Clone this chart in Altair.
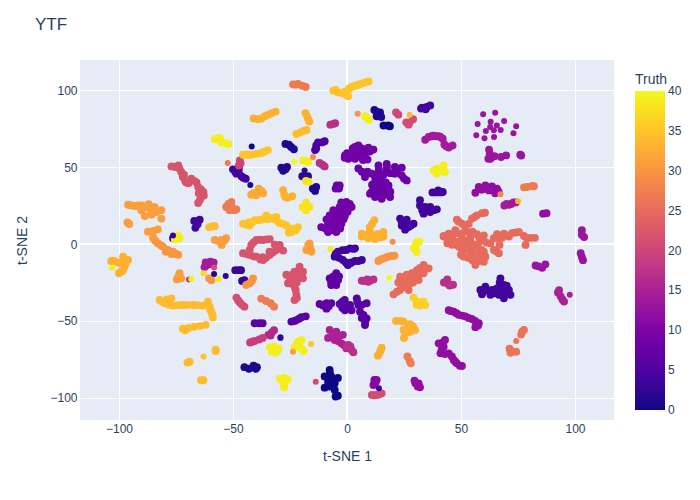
import altair as alt
import pandas as pd

pts_0 = [(16,77),(18,77),(18.8,76.5),(-7.6,-81.8),(-9.8,-86),(-6.9,-86),(-4,-87),(-8.3,-89.4),(-5.4,-90.5),(-9.8,-93.3),(-7.6,-92.6),(-5.4,-94.8),(-5,-99),(-4,-98.5),(-7.5,-84),(-8,-87),(-6,-88.5),(-6,-92)]
pts_1 = [(-27,65),(-25.5,64.5),(-24.5,63),(-23.3,61.5),(-28.8,49.6),(-26.3,50),(-28,47.5),(-27,48.5),(-14.2,36),(-14,34.5),(-13.5,37),(-15,36),(-45,-80),(-43,-81),(-41,-79),(-40,-81),(-39.5,-80),(12,87),(13.5,85),(13,83),(15,82.5),(14.5,85.5),(13,86)]
pts_2 = [(-18.6,44),(-19.6,44),(-17.1,44)]
pts_3 = [(-76.3,3.7),(-49,-17),(-47.5,-17),(-46.5,-17),(-46,-24),(-45,-23.5)]
pts_4 = [(-50,48.5),(-47.4,49.3),(-48.5,45.7),(-46.3,44),(-44.4,42.4),(-49,47),(-45.5,43),(-47.5,47),(-67,15),(-65.5,13),(-66.5,10.5),(-64.6,15.8),(-65.8,12.8),
(33,88.5),(35,89),(36.5,90),(32.5,88),(34.5,87.5),(37.5,33.5),(40,34.8),(42,33.8),(39,33.5),(41,33.5),
(32,28.4),(32,25),(34.3,24),(36.5,24),(39.4,22.5),(33.6,19.7),(36.5,20.8),(35,22),(33,22),(38,22),(23.3,16.5),(26.2,15.8),(29.2,13.2),(24,12),(27,11),(25.5,9.3),(24,14),(26,13),(28,12),
(-5.4,-8.2),(-4,-5),(-0.3,-3.9),(-1.8,-10.4),(0.4,-13.6),(-2,-4),(1.3,-2.8),(3.5,-2.8),(2.8,-3.2),(1.3,-12.5),(3.5,-11),(6.5,-10.4),(-3.5,-9),(-0.5,-12),(5,-11),(2,-12),(-5,-6.5),
(58.5,-29.9),(60.7,-27.7),(63.6,-29.9),(62.9,-33),(67.3,-22.3),(68.8,-26.6),(71,-29.9),(68.8,-35.3),(71.7,-33),(66.6,-33),(65.8,-28.8),(59.2,-32.7),(61,-30),(68,-29),(69,-32),(67,-25),(70,-27),(64.5,-32)]
pts_5 = [(-14,61),(-12.7,66),(-9.8,66.7),(-11,66),(-13.5,64),(-13.5,62)]
pts_6 = [(-24.4,-50.4),(-22.2,-49.4),(-20,-47.6),(-18.1,-47),(-23,-50),(-21,-48.5),(-1,-36.4),(-0.9,-43),(1.3,-39.6),(4.3,-35.3),(5,-39.6),(8.6,-38.5),(5.7,-44),(7.2,-46),(8.6,-48.3),(7.9,-52.6),(2,-43),(4.5,-37.5),(6.5,-39.5),(6.5,-48),(8,-50.5),(-3.2,-39),(-0.3,-40),(-2,-37.5),(-2,-41.5)]
pts_7 = [(-4.7,-19),(-7.6,-22.3),(-3.9,-23.4),(-6.9,-26.6),(-4.7,-26.6),(-6,-21),(-5.5,-24),(-3.5,-21),(-7,-24.5),(-12,-39),(-9,-38.5),(-6.9,-38.5),(-9,-42),(-10.5,-40),(-8,-40.5),(-40.5,-51.5),(-38.5,-51.5),(-37,-51.5)]
pts_8 = [(-4.5,38),(-3.5,36),(-4,37.5),(-5,36),(-3.2,38),
(17.4,52),(13.8,51),(21,50),(24,49.6),(5,49),(7.9,45.7),(10.8,45.7),(13.8,46.8),(17.4,47.8),(21,45.7),(24,44.6),(26.2,41.3),(12.3,43.5),(15.2,43.5),(7.9,43.5),(12.3,40.3),(15.2,40.3),(18.2,38),(11.6,37),(14.5,37),(10.8,33.8),(13.8,33.8),(16.7,33.8),(18.9,30.5),(15.2,29.4),(12.3,30.5),(10.1,32.7),(16,31.6),(19,34),(17,37),(14,48.5),(16,45),(19,46),(22,48),(9,47),(25,42.5),(6.5,47),(14,31),(12,34),(17.5,50),(13,40),(11,38.5),(17,40)]
pts_9 = [(-0.3,27.3),(-3.2,24),(-0.3,23),(-7.6,18.6),(-4.7,18.6),(-1.8,19.7),(-8.3,13.2),(-5.4,13.2),(-2.5,13.2),(-11.3,11),(-8.3,7.8),(-4.7,7.8),(-6,11),(1.2,26),(-6,22),(-3.5,21),(-1,25),(-9.5,10),(-7,16),(-4,16),(-1.5,16),(-3,10),(-6.5,9),(-1,22),(-6,15.5),(-8,11),(2,24),(-9,16),(-5.5,20),(0.3,21),(-2.5,27),(-1,18),
(3.5,63),(6.5,62),(9.4,62.5),(11.6,61.3),(2,58.7),(5,58.7),(8,58.7),(0.6,55.4),(3.5,55.4),(6.5,56.5),(9,54.8),(4.3,61),(-0.9,57.6),(2.5,62),(7.5,60.5),(10,60),(2,56.5),(5,57),(7,54.5),(5,64),(0,59),(-1,56)]
pts_11 = [(12,-88.3),(11.6,-91.6),(13,-88.3),(12.5,-90)]
pts_12 = [(56.3,33.3),(57.8,37),(60.7,38),(63.6,37.4),(65.8,36),(59.2,35.3),(62.2,34.8),(65,33),(60,36.5),(62,36.5),(64,35),(66.5,34),(58,36),
(86,19.7),(87.5,20),(44.6,-43),(46.8,-44),(49,-46),(51.9,-47),(54.8,-48.7),(57.8,-51.5),(56.3,-54),(45.5,-43.5),(48,-45),(50.5,-46.5),(53.3,-48),(56.2,-50),(57.5,-53),
(43,-62.3),(40.2,-64.5),(42.4,-66.7),(41,-71),(44.6,-71),(46.8,-75.3),(48.2,-77.5),(50.4,-79.2),(42,-64),(41.5,-68.5),(43,-71.5),(46,-73),(47.5,-76.5),(49.5,-79),
(29.6,-88.7),(31.4,-90.5),(32,-93),(30,-90.5),(31,-92.5)]
pts_13 = [(62.3,61.3),(62.6,58.7),(62.9,55.4),(64.7,57),(67.6,56.5),(69.8,57.6),(76,58),(76.4,57.5),(62,55.4),(103,9),(103,6),(104,4.5),(102.5,-6),(103,-8.5),(103.5,-10.5),(82.7,-14),(85.6,-15.4),(87,-13.2),(84,-14.5)]
pts_14 = [(-62,-12),(-60,-11.5),(-58.5,-12),(-61.7,-14),(-62.5,-15),(-60,-13),(34.3,67.7),(35.8,69.5),(38,70.3),(40.2,70),(42,68.4),(42.7,64.7),(44.6,62.6),(46.3,64),(37,70),(39,70),(41,69.5),(43.5,63.5),(69,25),(71,25.5),(73,27),(74,27),(70,26),(72,26)]
pts_15 = [(-7.6,-55.8),(-4.7,-57),(-1.8,-59),(-8.3,-61),(-5.4,-62.3),(-2.5,-64.5),(-0.3,-67.7),(-6,-58),(-3.5,-60),(-6.5,-60),(-4,-63),(-1.5,-65.5),(93,-30),(93.7,-34),(95.2,-37.4),(94.5,-36),(92.5,-31.5)]
pts_16 = [(-34.5,-59),(-33,-57.5),(-32,-56),(-33.5,-59.5)]
pts_17 = [(-7.3,77.5),(-6,78),(-5.2,78.5),(-12,52.6),(-10.8,51.5),(-9.8,50.4),(6.5,-23.8),(8.8,-23),(11.6,-23),(9.4,-24.5),(7.5,-24),(10.5,-23.5),(44,-23),(42.5,-25),(45,-27),(46.5,-26.5),(44,-25.5),(0.6,-65.6),(2,-68.8),(2.8,-70.3),(0,-67),(1.5,-66.5)]
pts_19 = [(-42.5,-64),(-40.5,-63),(-38.5,-62),(-37,-61),(-41.5,-63.5)]
pts_20 = [(-47,54.3),(-47.4,51),(-46.7,52.5),(21.5,85.5),(22.5,84)]
pts_21 = [(26,79),(27.5,79),(29,81),(-48.5,-34.8),(-47,-38),(-45,-40.7),(-47.8,-36.5),(-46,-39.5),(10.9,-98),(13,-98),(15.2,-97),(12,-98.3),(14,-97.8),(27,77.5)]
pts_22 = [(-77,50.4),(-74,51),(-72.7,46.8),(-72,43.5),(-70.5,40),(-68.3,42.4),(-66,40),(-65.3,37),(-63,33.8),(-64,30.5),(-65.3,26.6),(-75.5,50),(-71,41),(-69.5,39.5),(-67,41),(-64,35.5),(-73.5,49),(-71.5,45),(-65,33),(-64.5,28.5),(-62.8,31.5),
(-45.6,-6),(-42.7,-7.1),(-39.8,-8.2),(-36.8,-10.4),(-33.9,-7.1),(-31,-3.9),(-28,-4.3),(-29.5,-0.6),(-31.7,-0.4),(-33.9,3.2),(-36.8,2.6),(-39.8,2.6),(-42,-0.6),(-42.7,-3.9),(-44,-6.5),(-41,-8),(-38,-10),(-35.5,-9),(-32.5,-5.5),(-35.3,3),(-38.3,2.8),(-41,1),(-30.5,-2),(-37,-8.5),(-34,-5),
(-20.8,-14.7),(-23,-18),(-26.6,-20),(-25,-22.3),(-22.2,-22.3),(-25.9,-25.5),(-23,-27.7),(-22.2,-33),(-23,-36.4),(-19.3,-18),(-19.3,-22.3),(-21,-17),(-24,-20),(-22,-25),(-22.5,-30),(-24,-26),(-21,-20),(-24.5,-24),(-22,-35)]
pts_25 = [(59.2,20),(57,18.6),(54.8,16.5),(48.2,15.8),(50.4,13.2),(53.4,13.2),(51.9,10),(47.5,8.9),(49.7,6.7),(44.6,6.7),(42.4,5.2),(46,4.5),(50.4,3.5),(54,4.5),(57,6.3),(60,5.6),(52,8),(55,8),(47,6.5),(60.5,20.3),(56,17.5),(49,14.5),
(42.4,4.8),(44.4,2.6),(49,-1.7),(50.4,3.7),(54,3.7),(57.8,4.8),(52.6,0.4),(56.3,-1.7),(59,-3.9),(51.2,-8.2),(54.8,-6),(57.8,-8.2),(60.7,-8.2),(56.3,-13.6),(60,-11.5),(53.4,-3.9),(62.9,0.4),(47,1.5),(46,-0.5),(50.5,-4.5),(55,-2.5),(53,-9),(58,-11),(58,-5),(48,-0.5),(57.5,0),(49,1.5),
(65.8,6.3),(68.8,6.7),(72.4,7.1),(75.4,7.8),(66.5,3.5),(77.6,5.2),(80.5,4),(82.4,4),(64.4,3.7),(68,4.1),(71,4.8),(79,3.7),(78.3,-0.6),(66.9,-0.6),(64.4,-3.9),(66.6,-6),(70,5.8),(74,7.5),(65.5,-4.8),
(20.4,-32.7),(23.3,-29.9),(27,-29.9),(23.3,-21.2),(26.2,-20),(24.8,-25.5),(27.7,-25.5),(30,-21.2),(30.6,-17),(33.6,-13.6),(35.8,-15.8),(33.6,-19),(31.4,-23.4),(21.9,-31),(29,-25),(27,-23),(32,-15.5),(25,-23),(28.5,-19),(25,-28),(22.5,-25),(24,-27.5),(34.5,-16),(31.8,-19.5),
(52,-1.5),(50,-7),(55,-10.5),(60,-5),(52,2),(44,0.5),(45.5,2.5),(59,2.5),(61,1),(54.5,0.5)]
pts_26 = [(77.6,-55.8),(76.4,-58.7),(71.3,-68),(71.7,-70.6),(74.2,-70),(72,-69.5),(76.8,-57)]
pts_27 = [(-23.7,103.7),(-21.5,104),(-19.6,102.8),(-18.1,102),(-22.5,103.5),(-50.7,27.3),(-53,24),(-51.5,22),(-49.3,22),(-52,26),(-50.5,24),(-48.5,22.5),(-37.6,-35.5),(-35.5,-37),(-33.5,-38.5),(-32,-40.7),(77.6,36.8),(79,37),(81.2,37.7),(82,37.5),(26.5,-73),(27.5,-76),(28,-77.5)]
pts_30 = [(-85,3.7),(-82.9,0.4),(-80.7,-1.7),(-78.5,-3.9),(-76.3,-5),(-74,-7),(-79.5,-5),(-84,2),(-81.5,-1),(-77,-6.5),(-75,-6.5),(-60.5,-22.3),(-59.5,-23.5),(-41.2,-22.3),(-42.7,-25.5),(-44.2,-26.6),(-41.7,-24),(13.8,-11),(16,-9.3),(18,-8.2),(20.8,-7.6),(14.8,-10),(17,-8.8),(19.5,-7.8)]
pts_31 = [(-96,25.5),(-93,24.7),(-90,25),(-87,25.8),(-84.4,24),(-81.4,21.9),(-90.2,21.9),(-86.5,23),(-83.6,20.8),(-85.8,19),(-88.7,18.2),(-81.4,16.5),(-94.5,25),(-91.5,25),(-88.5,24),(-96.3,14),(-95.5,13),(-87.3,8),(-85,8.5),(-83,9.5),(-85,4.5),
(-58,2.6),(-55,2.6),(-55,-0.6),(-53,3.7),(-56.5,2),(-54,2),(-17,-0.6),(-17.8,-3.9),(-15.6,-5),(-16.4,0.4),(-16,-3),(-73.4,-19),(-74.6,-23),(-72.7,-22.3),(-74,-21)]
pts_32 = [(-38.7,36),(-42,32),(-39.8,31.6),(-36.8,33),(-38.5,33.5),(-41,33),(-37.5,34.5)]
pts_33 = [(-41,81.5),(-39,81),(-37.5,81.5),(-36,83),(-34.5,84),(-33,85),(-31.3,86),(-18.2,85),(-17.5,83),(-17,81),(-16.5,79.5),(-28,35),(-27.5,32),(-26,30),(-24,31),(-27,30.5),
(-102,-11),(-98.2,-8.2),(-96,-10.4),(-98.5,-13.6),(-97.5,-14.7),(-100,-19),(-98.2,-17),(-98.3,-11.5),(-103.4,-11),(-100.5,-12),(-97,-12.5),(-99,-18),
(12,15.4),(10,11),(6.5,6.7),(9.4,6.7),(12.3,5.6),(16,7.8),(14.5,4.3),(6.5,4.8),(9.4,3.7),(12.3,3.2),(16,4.8),(10,8.5),(11,13),(10.5,5),(13.5,6.5),
(21.5,-50),(24.8,-50.4),(27.7,-52),(29.9,-55.8),(24.8,-55.8),(27.7,-57),(25,-61),(27,-54),(29,-53.5),(25.5,-58.5),(23.5,-50),(15.2,-67.3),(14.5,-70),(13.5,-72.5),(14.8,-68.8),(14,-71.5)]
pts_34 = [(-22.2,71.5),(-20.5,72.5),(-19,73.5),(-17.7,74),(-60.5,11),(-59,11.5),(-58,11.5),
(-82.2,-36.4),(-77,-35.3),(-80,-38.5),(-76.3,-40),(-72,-39.6),(-67.5,-39.6),(-63.2,-40),(-61,-37.4),(-60.2,-40.7),(-59.5,-44),(-58.8,-47.8),(-79,-36),(-81,-37.5),(-78,-39.5),(-74,-39.8),(-70,-39.6),(-65.5,-39.8),(-60,-42.5),(-59,-46),
(-72,-55),(-69.5,-54.5),(-67,-53.8),(-64.5,-53.3),(-62,-52.5),(-71,-56),(-57.6,-68.6),(-57.6,-69.5),(-69,-76.4),(-70,-77),(-64,-88.5),(-63,-88.5)]
pts_35 = [(-6,99.5),(-4,98.5),(-2.5,98),(-0.5,97),(0.5,100),(0.5,96),(2,102),(4,103),(6,104),(8,105),(9.5,105.5),(-5,100),(-1,99),(1,101),(3,102.5),(5,103.5),(7,104.5),
(-45.6,58),(-44,58),(-42,58),(-40,58.5),(-38,59),(-36,60),(-34.7,61),(-43,58),(-37,59.5),
(-45.6,13.2),(-42.7,12),(-40.5,15.4),(-37.6,15.8),(-35.4,18.6),(-33.2,17),(-31,17.5),(-29.5,13.6),(-26.6,12),(-23.7,10),(-24.4,7.8),(-21.5,11),(-44,12.5),(-39,15.5),(-35,16),(-32,16),(-28,13),(-25,10),(-41.5,14),(-43,14),(-30.5,15),(-25.5,7.5),(-22.5,9)]
pts_36 = [(29.2,-34.8),(30.6,-37.4),(33.6,-37.4),(32,-40),(34.3,-39.6),(30.5,-39.5),(32,-38)]
pts_38 = [(-19.5,24),(-18,27),(-18,22),(-16.5,24),(-18,41),(-17,40.5)]
pts_39 = [(-58,68),(-55.8,69),(-55,66),(-52,65),(-57,68.5),(-53.5,65.5),(-19.3,54.3),(-17.1,53.2),(-18,54),(8,83),(9,81.5),(9.7,80.5),
(-73.5,3.7),(-75.5,3),(-74,5.5),(38,47.8),(40.2,47.8),(42.4,51),(43,46.8),(39.4,45.7),(41.6,49),(39.5,49),
(30.4,1),(29.3,-2.8),(30.6,-5),(31.7,1.5),(30,-1),
(-33.8,-67),(-32,-66.5),(-30,-68),(-33,-70),(-31.5,-70.5),(-30.5,-69.5),(-21.5,-63.4),(-23,-66.7),(-20.8,-66.7),(-19,-69.5),(-20,-62.3),(-22,-65),(-20,-68),
(-29.5,-87.5),(-27.5,-87),(-26,-88),(-28,-90),(-27.5,-93),(-27.5,-91.5)]

dot_truth = [0,1,1,1,2,3,3,13,13,13,13,13,13,13,13,13,13,13,13,13,13,13,15,18,21,21,27,26,28,29,29,30,30,31,33,34,35,35,37,38,39,39,39,40,40,4,3,2]
dot_x = [-41.8,-42.4,-58.3,-27,-18.6,-29.2,-76.3,59.7,65,57.3,63,68.9,74.2,65.7,62.8,60.9,64.4,67.4,73,56.7,60.3,64.5,97.7,-69.3,-58.3,-13.7,-52.3,74.2,67.3,-14.9,20,4.7,-60.5,-23.7,75,27.5,-15.8,-62.9,-62.9,-56.3,-7.3,-103,-68.3,-23.2,18.6,14,-29.2,-53.2]
dot_y = [63.4,38.3,-19.5,49,47.8,-60.5,5.5,84.2,85.3,78,79.4,79.9,76.4,77,76,73.4,73.8,74,71.9,70.6,68.6,69.5,-33,-23,-15.2,-89.4,52.6,-63,32.3,56.5,1.5,84.6,-22.3,-70,27.7,84,-65,-73,-19,-22.7,-3.2,-15.4,-22.7,53.5,-21.9,-93.7,-61,-20.8]

legend_ticks = [0.01,5,10,15,20,25,30,35,39.99]

series = [(0,pts_0),(1,pts_1),(2,pts_2),(3,pts_3),(4,pts_4),(5,pts_5),(6,pts_6),(7,pts_7),(8,pts_8),(9,pts_9),
          (11,pts_11),(12,pts_12),(13,pts_13),(14,pts_14),(15,pts_15),(16,pts_16),(17,pts_17),(19,pts_19),
          (20,pts_20),(21,pts_21),(22,pts_22),(25,pts_25),(26,pts_26),(27,pts_27),(30,pts_30),
          (31,pts_31),(32,pts_32),(33,pts_33),(34,pts_34),(35,pts_35),(36,pts_36),(38,pts_38),(39,pts_39)]
df = pd.DataFrame([{"x":p[0],"y":p[1],"Truth":v} for v,ps in series for p in ps])
dots = pd.DataFrame({"x":dot_x,"y":dot_y,"Truth":dot_truth})

plasma = ["#0d0887","#46039f","#7201a8","#9c179e","#bd3786","#d8576b","#ed7953","#fb9f3a","#fdca26","#f0f921"]
stops = [i*40/9 for i in range(10)]
ink = "#2a3f5f"
ticks = [-100,-50,0,50,100]
xs = alt.Scale(domain=[-117.1,117.1], nice=False, zero=False)
ys = alt.Scale(domain=[-114.3,119.5], nice=False, zero=False)
axx = alt.Axis(values=ticks, grid=True, gridColor="white", gridWidth=1, domain=False, ticks=False,
               labelColor=ink, labelFontSize=12, labelPadding=3, titleColor=ink, titleFontSize=14,
               titleFontWeight="normal", titlePadding=15)
axy = alt.Axis(values=ticks, grid=True, gridColor="white", gridWidth=1, domain=False, ticks=False,
               labelColor=ink, labelFontSize=12, labelPadding=3, titleColor=ink, titleFontSize=14,
               titleFontWeight="normal", titlePadding=20)
X = alt.X("x:Q", scale=xs, title="t-SNE 1", axis=axx)
Y = alt.Y("y:Q", scale=ys, title="t-SNE 2", axis=axy)
col = alt.Color("Truth:Q", scale=alt.Scale(domain=stops, range=plasma),
                legend=alt.Legend(title="Truth", orient="none", legendX=555, legendY=13, gradientLength=319,
                                  gradientThickness=30, values=legend_ticks, format=".0f", titleFontSize=14,
                                  titleFontWeight="normal", titleColor=ink, labelColor=ink, labelFontSize=12,
                                  titlePadding=4, labelOffset=3, labelOverlap=False))

blobs = alt.Chart(df).mark_circle(size=62, opacity=1).encode(x=X, y=Y, color=col, order=alt.Order("Truth:Q"))
singles = alt.Chart(dots).mark_circle(size=36, opacity=1).encode(x=X, y=Y, color=col, order=alt.Order("Truth:Q"))
zero_x = alt.Chart(pd.DataFrame({"x":[0]})).mark_rule(color="white", strokeWidth=2).encode(x=X)
zero_y = alt.Chart(pd.DataFrame({"y":[0]})).mark_rule(color="white", strokeWidth=2).encode(y=Y)

chart = alt.layer(zero_x, zero_y, blobs, singles).properties(
    width=534, height=360, autosize="none",
    padding={"left":72,"top":52,"right":70,"bottom":64},
    title=alt.TitleParams("YTF", anchor="start", frame="group", color=ink, fontSize=17, fontWeight="normal", dx=-45, offset=25),
    background="white",
).configure(font="Liberation Sans", view=alt.ViewConfig(fill="#E5ECF6", stroke=None))
chart.save("out.html", embed_options={"renderer": "svg", "actions": False})
